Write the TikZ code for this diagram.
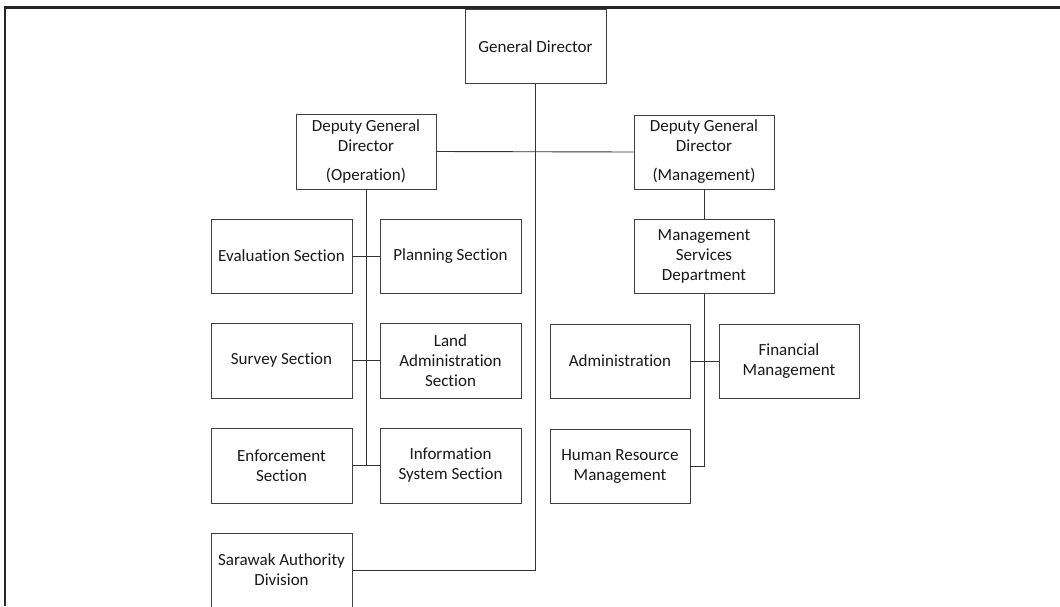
\documentclass[tikz,border=0pt]{standalone}
\usepackage{fontspec}
\setmainfont{Carlito}[Ligatures={NoCommon}]
\begin{document}
\begin{tikzpicture}[x=1pt,y=-1pt,
  box/.style={draw=black!75, line width=0.9pt, minimum width=141pt, minimum height=74pt,
    inner sep=0pt, align=center, text=black!90, font=\fontsize{17}{20}\selectfont},
  link/.style={draw=black!80, line width=0.9pt}]
\useasboundingbox (0,0) rectangle (1060,606);
\fill[white] (0,0) rectangle (1060,606);
\draw[line width=2.4pt, black!85] (5,606) -- (5,7.5) -- (1060,7.5);

\node[box] (gd) at (535.5,46.5) {General Director};
\node[box, minimum width=140pt, minimum height=75pt] (dgo) at (366,151.5) {Deputy General\\Director\\[9pt](Operation)};
\node[box, minimum width=140pt] (dgm) at (704,152) {Deputy General\\Director\\[9pt](Management)};

\node[box] (eval) at (281.5,256) {Evaluation Section};
\node[box] (plan) at (450.5,256) {Planning Section};
\node[box, minimum height=75pt] (survey) at (281.5,360.5) {Survey Section};
\node[box, minimum height=75pt] (land) at (450.5,360.5) {Land\\Administration\\Section};
\node[box, minimum height=75pt] (enf) at (281.5,465.5) {Enforcement\\Section};
\node[box, minimum height=75pt] (info) at (450.5,465.5) {Information\\System Section};
\node[box] (sar) at (281.5,570) {Sarawak Authority\\Division};

\node[box, minimum width=140pt] (msd) at (704,256.5) {Management\\Services\\Department};
\node[box, minimum width=140pt] (admin) at (620,361) {Administration};
\node[box, minimum width=140pt] (fin) at (789,361) {Financial\\Management};
\node[box, minimum width=140pt] (hr) at (620,466) {Human Resource\\Management};

\coordinate (opend) at (dgo.south |- enf.east);
\draw[link] (gd.south) |- (sar.east);
\draw[link] (dgo.east) -- (dgm.west);
\draw[link] (dgo.south) -- (opend);
\draw[link] (eval.east) -- (plan.west);
\draw[link] (survey.east) -- (land.west);
\draw[link] (enf.east) -- (info.west);
\draw[link] (dgm.south) -- (msd.north);
\draw[link] (msd.south) |- (hr.east);
\draw[link] (admin.east) -- (fin.west);
\end{tikzpicture}
\end{document}
